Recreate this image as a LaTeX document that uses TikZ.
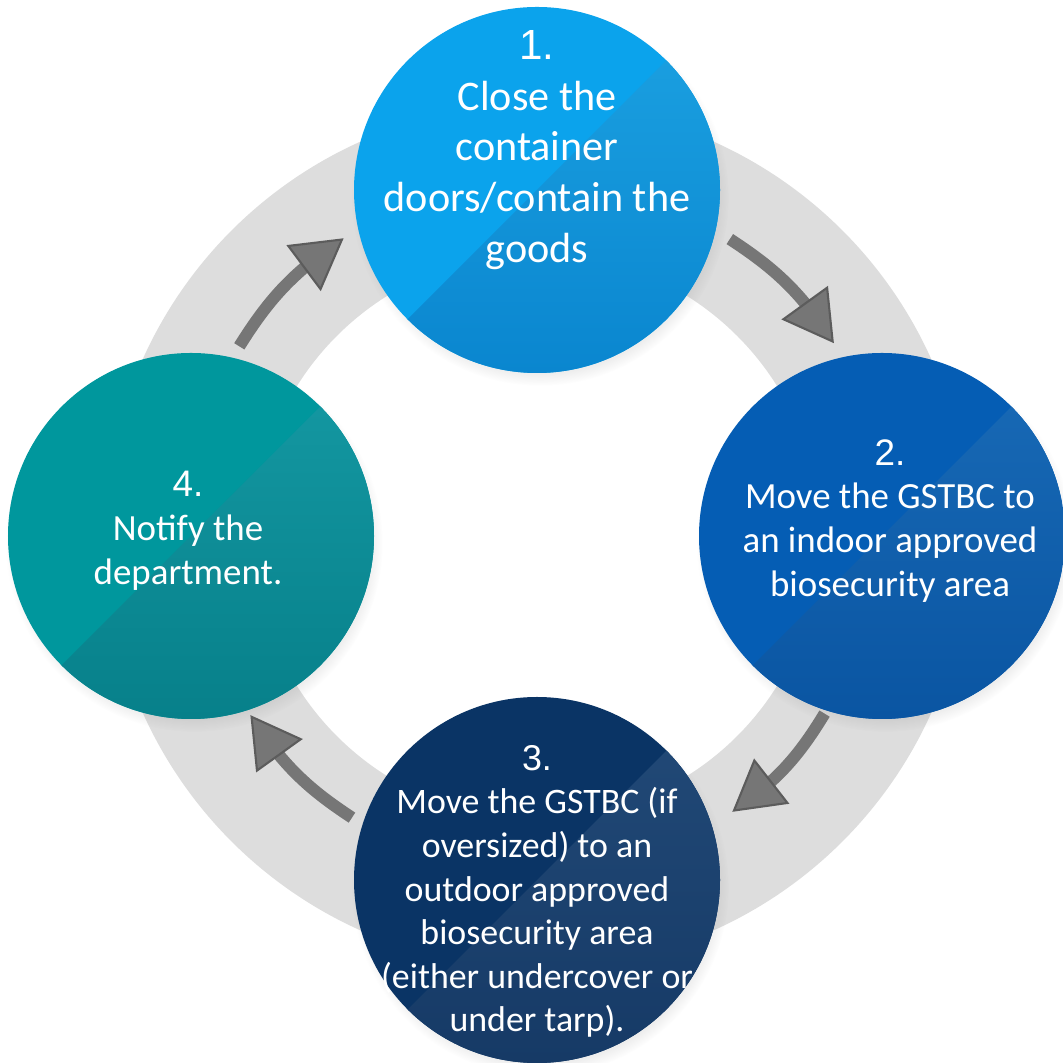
\documentclass[tikz,border=0pt]{standalone}
\usepackage{fontspec}
\setmainfont{Carlito}
\newfontfamily\numfont{Liberation Sans}
\usetikzlibrary{arrows.meta,bending,shadows,calc}

\definecolor{ringin}{HTML}{DDDDDD}
\definecolor{ringout}{HTML}{CFCFCF}
\definecolor{arrowgray}{HTML}{767676}
\definecolor{arrowedge}{HTML}{5C5C5C}
\definecolor{oneA}{HTML}{0BA3EC}
\definecolor{oneB}{HTML}{1CA2E2}
\definecolor{oneC}{HTML}{0A86CF}
\definecolor{twoA}{HTML}{055DB4}
\definecolor{twoB}{HTML}{196BB7}
\definecolor{twoC}{HTML}{0A55A2}
\definecolor{threeA}{HTML}{0A3465}
\definecolor{threeB}{HTML}{224A78}
\definecolor{threeC}{HTML}{163A66}
\definecolor{fourA}{HTML}{00979D}
\definecolor{fourB}{HTML}{159AA4}
\definecolor{fourC}{HTML}{07808A}

\pgfdeclareradialshading{ringshade}{\pgfpoint{0bp}{0bp}}{color(0bp)=(ringin); color(32.5bp)=(ringin); color(50bp)=(ringout)}

\tikzset{
  stage/.style n args={3}{circle, minimum size=3.66cm, inner sep=0pt, fill=#1,
    path picture={\shade[top color=#2, bottom color=#3]
      (path picture bounding box.south west) -- (path picture bounding box.south east)
      -- (path picture bounding box.north east) -- cycle;},
    circular drop shadow={shadow xshift=0.3mm, shadow yshift=-0.7mm, shadow scale=1.03, opacity=0.3}},
  bigtxt/.style={text=white, align=center, inner sep=0pt, font=\fontsize{12}{14.4}\selectfont},
  smalltxt/.style={text=white, align=center, inner sep=0pt, font=\fontsize{10.5}{12.5}\selectfont},
  flow/.style={line width=1.2mm, draw=arrowgray,
    -{Triangle[length=5mm, width=5.7mm, line width=0.6pt, fill=arrowgray, color=arrowedge]}}
}

\begin{document}
\begin{tikzpicture}
  \useasboundingbox (0,0) rectangle (10.62,10.63);
  \coordinate (hub) at (5.37,5.27);

  \shade[shading=ringshade, even odd rule] (hub) circle[radius=4.32] (hub) circle[radius=2.83];

  \coordinate (a1s) at ($(hub)+(57:3.54)$);
  \coordinate (a1e) at ($(hub)+(33:3.54)$);
  \coordinate (a2s) at ($(hub)+(-31.7:3.38)$);
  \coordinate (a2e) at ($(hub)+(-54.7:3.38)$);
  \coordinate (a3s) at ($(hub)+(236.7:3.37)$);
  \coordinate (a3e) at ($(hub)+(212:3.38)$);
  \coordinate (a4s) at ($(hub)+(147.5:3.53)$);
  \coordinate (a4e) at ($(hub)+(123:3.55)$);
  \draw[flow] (a1s) to[bend left=12] (a1e);
  \draw[flow] (a2s) to[bend left=12] (a2e);
  \draw[flow] (a3s) to[bend left=12] (a3e);
  \draw[flow] (a4s) to[bend left=12] (a4e);

  \node[stage={oneA}{oneB}{oneC}] (n1) at ($(hub)+(90:3.46)$) {};
  \node[stage={twoA}{twoB}{twoC}] (n2) at ($(hub)+(0:3.45)$) {};
  \node[stage={threeA}{threeB}{threeC}] (n3) at ($(hub)+(-90:3.44)$) {};
  \node[stage={fourA}{fourB}{fourC}] (n4) at ($(hub)+(180:3.46)$) {};

  \node[bigtxt] (t1) at ([yshift=4mm]n1.center)
    {{\numfont 1.}\\Close the\\container\\doors/contain the\\goods};
  \node[smalltxt] (t2) at ([xshift=0.8mm,yshift=1.5mm]n2.center)
    {{\numfont 2.}\\Move the GSTBC to\\an indoor approved\\biosecurity area};
  \node[smalltxt, font=\fontsize{10.2}{12.4}\selectfont] (t3) at ([yshift=-1.15mm]n3.center)
    {{\numfont 3.}\\Move the GSTBC (if\\oversized) to an\\outdoor approved\\biosecurity area\\(either undercover or\\under tarp).};
  \node[smalltxt] (t4) at ([xshift=-0.3mm,yshift=0.5mm]n4.center)
    {{\numfont 4.}\\Notify the\\department.};
\end{tikzpicture}
\end{document}
